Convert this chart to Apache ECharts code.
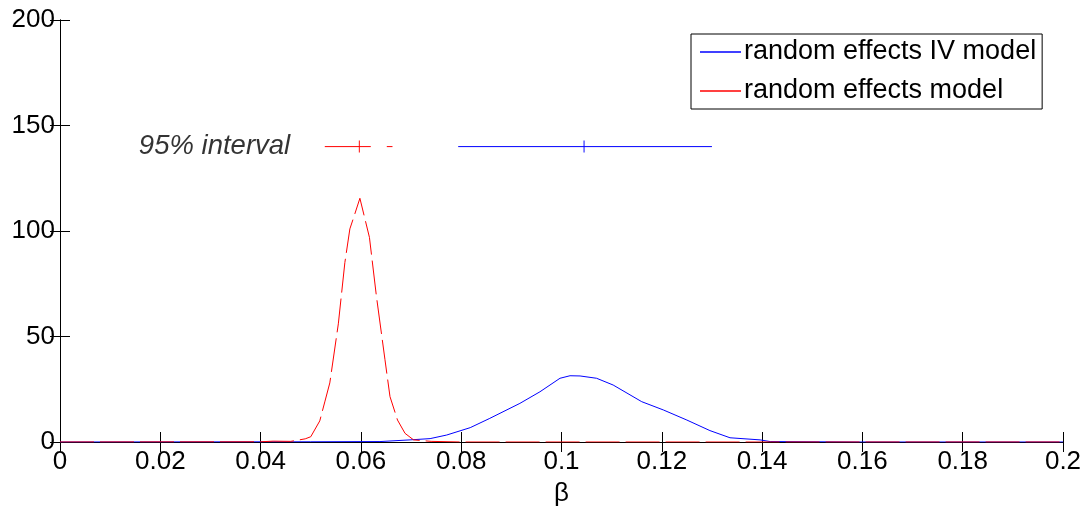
<!DOCTYPE html>
<html>
<head>
<meta charset="utf-8">
<script src="https://cdn.jsdelivr.net/npm/echarts@6/dist/echarts.min.js"></script>
<style>
html,body{margin:0;padding:0;background:#fff;}
#chart{width:1089px;height:507px;}
</style>
</head>
<body>
<div id="chart"></div>
<script>
// Data
var xTickLabels = ['0','0.02','0.04','0.06','0.08','0.1','0.12','0.14','0.16','0.18','0.2'];
var yTickLabels = ['0','50','100','150','200'];

var ivX = [0, 0.05, 0.0638, 0.0698, 0.0738, 0.0771, 0.0818, 0.0857, 0.0917, 0.0957, 0.0997, 0.1017, 0.1037, 0.107, 0.1103, 0.116, 0.1203, 0.125, 0.1296, 0.1336, 0.1396, 0.1416, 0.16, 0.2];
var ivY = [0, 0.1, 0.2, 1, 1.6, 3.3, 6.8, 11.2, 18.3, 23.8, 30.2, 31.4, 31.3, 30.2, 27, 19.1, 15.2, 10.4, 5.4, 2.0, 1, 0.2, 0, 0];

var reX = [0, 0.04, 0.0425, 0.046, 0.0489, 0.05, 0.0518, 0.0528, 0.0538, 0.0555, 0.0568, 0.0578, 0.0585, 0.0598, 0.0617, 0.0631, 0.0648, 0.0658, 0.0673, 0.0688, 0.0705, 0.074, 0.08, 0.2];
var reY = [0, 0.1, 0.4, 0.3, 1.5, 2.5, 10, 19, 28, 56, 85, 101, 106, 115.5, 97, 69, 39, 21.5, 10.4, 4.1, 1, 0.3, 0, 0];

var intervalLevel = 140;
var reInterval = [0.0528, 0.0663];
var reMean = 0.0597;
var ivInterval = [0.0794, 0.130];
var ivMean = 0.1045;
var intervalLabelX = 0.0459;

var names = ['random effects IV model', 'random effects model'];

function pairs(xs, ys){ return xs.map(function(x,i){ return [x, ys[i]]; }); }

var chart = echarts.init(document.getElementById('chart'));
var font = 'Liberation Sans, Arial, Helvetica, sans-serif';

function xLabel(v){
  var idx = Math.round(v / 0.02);
  return xTickLabels[idx] !== undefined ? xTickLabels[idx] : '';
}
function yLabel(v){
  var idx = Math.round(v / 50);
  return yTickLabels[idx] !== undefined ? yTickLabels[idx] : '';
}

var option = {
  animation: false,
  backgroundColor: '#fff',
  grid: { left: 60, top: 20, right: 26, bottom: 65, containLabel: false, outerBoundsMode: 'none' },
  legend: {
    data: [{name: names[0]}, {name: names[1]}],
    orient: 'vertical',
    left: 691,
    top: 34,
    padding: [3, 6, 3, 9],
    itemGap: 9,
    itemWidth: 41,
    itemHeight: 1.5,
    icon: 'rect',
    borderColor: '#000',
    borderWidth: 1,
    borderRadius: 0,
    backgroundColor: '#fff',
    textStyle: { fontFamily: font, fontSize: 27, color: '#000', lineHeight: 30, padding: [0,0,0,-2] },
    selectedMode: false
  },
  xAxis: [{
    type: 'value', min: 0, max: 0.2, interval: 0.02,
    name: 'β', nameLocation: 'middle', nameGap: 39,
    nameTextStyle: { fontFamily: font, fontSize: 26, color: '#000' },
    axisLine: { show: true, lineStyle: { color: '#000', width: 1 } },
    axisTick: { show: true, inside: true, length: 10, lineStyle: { color: '#000' } },
    axisLabel: { fontFamily: font, fontSize: 26, color: '#000', margin: 7, formatter: xLabel },
    splitLine: { show: false }
  }, {
    type: 'value', min: 0, max: 0.2, interval: 0.02, position: 'top',
    axisLine: { show: true, lineStyle: { color: '#000', width: 1 } },
    axisTick: { show: true, inside: true, length: 10, lineStyle: { color: '#000' } },
    axisLabel: { show: false },
    splitLine: { show: false }
  }],
  yAxis: [{
    type: 'value', min: 0, max: 200, interval: 50,
    axisLine: { show: true, lineStyle: { color: '#000', width: 1 } },
    axisTick: { show: true, inside: true, length: 10, lineStyle: { color: '#000' } },
    axisLabel: { fontFamily: font, fontSize: 26, color: '#000', margin: 5, formatter: yLabel },
    splitLine: { show: false }
  }, {
    type: 'value', min: 0, max: 200, interval: 50, position: 'right',
    axisLine: { show: true, lineStyle: { color: '#000', width: 1 } },
    axisTick: { show: true, inside: true, length: 10, lineStyle: { color: '#000' } },
    axisLabel: { show: false },
    splitLine: { show: false }
  }],
  series: [
    {
      name: names[0], type: 'line', data: pairs(ivX, ivY), smooth: false,
      showSymbol: false, symbol: 'none',
      lineStyle: { color: '#0000ff', width: 1 }, itemStyle: { color: '#0000ff' }, z: 3
    },
    {
      name: names[1], type: 'line', data: pairs(reX, reY), smooth: false,
      showSymbol: false, symbol: 'none',
      lineStyle: { color: '#ff0000', width: 1, type: [34, 6] }, itemStyle: { color: '#ff0000' }, z: 4
    },
    {
      name: 'reInterval', type: 'line', data: [[reInterval[0], intervalLevel], [reInterval[1], intervalLevel]],
      showSymbol: false, symbol: 'none',
      lineStyle: { color: '#ff0000', width: 1, type: [46, 16] }, z: 4
    },
    {
      name: 'ivInterval', type: 'line', data: [[ivInterval[0], intervalLevel], [ivInterval[1], intervalLevel]],
      showSymbol: false, symbol: 'none',
      lineStyle: { color: '#0000ff', width: 1 }, z: 3
    },
    {
      name: 'means', type: 'scatter',
      data: [
        { value: [reMean, intervalLevel], itemStyle: { color: '#ff0000' } },
        { value: [ivMean, intervalLevel], itemStyle: { color: '#0000ff' } }
      ],
      symbol: 'rect', symbolSize: [1.2, 12], z: 5
    },
    {
      name: 'intervalText', type: 'scatter',
      data: [[intervalLabelX, intervalLevel]],
      symbolSize: 0, itemStyle: { color: 'transparent' },
      label: {
        show: true, position: 'left', distance: 0,
        formatter: '95% interval',
        fontFamily: font, fontSize: 27.5, fontStyle: 'italic', color: '#000'
      }
    }
  ]
};
chart.setOption(option);
</script>
</body>
</html>
